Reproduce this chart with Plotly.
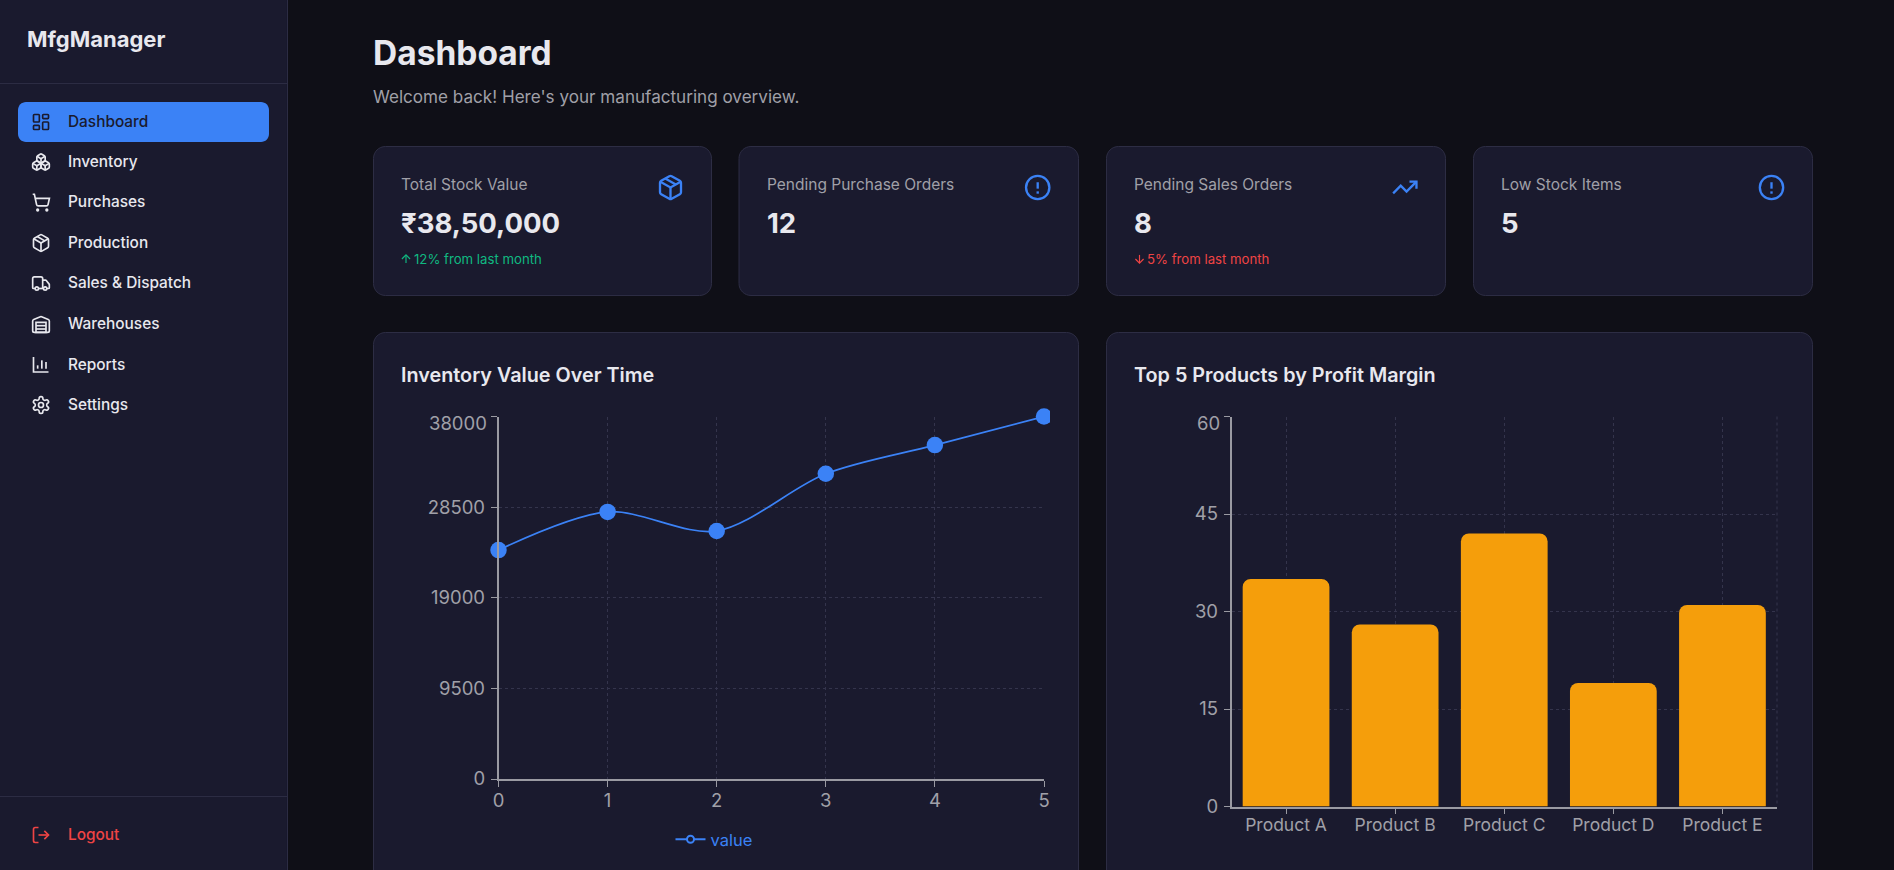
import math, re
import plotly.graph_objects as go

W, H = 1894, 870

# ---------- data ----------
INV_X = [0, 1, 2, 3, 4, 5]
INV_VALUES = [24000, 28000, 26000, 32000, 35000, 38000]
INV_Y_TICKS = [0, 9500, 19000, 28500, 38000]
SERIES_NAME = "value"

PRODUCTS = ["Product A", "Product B", "Product C", "Product D", "Product E"]
MARGINS = [35, 28, 42, 19, 31]
MARGIN_Y_TICKS = [0, 15, 30, 45, 60]

NAV_ITEMS = ["Dashboard", "Inventory", "Purchases", "Production", "Sales & Dispatch",
             "Warehouses", "Reports", "Settings"]
NAV_Y = [122, 162, 202.5, 243, 283.5, 324, 364.5, 405]

CARD_TITLES = ["Total Stock Value", "Pending Purchase Orders", "Pending Sales Orders", "Low Stock Items"]
CARD_VALUES = ["₹38,50,000", "12", "8", "5"]
CARD_X = [(373.5, 711.5), (739, 1078.5), (1106.5, 1445.5), (1473.5, 1812.5)]

# ---------- colours ----------
BG = "#0f0f17"
PANEL = "#1a1a2e"
BORDER = "#2d2d44"
GRID = "#34344c"
TEXT = "#e8e8ee"
MUTED = "#a0a0a8"
BLUE = "#3b82f6"
GREEN = "#10b981"
RED = "#ef4444"
AMBER = "#f59e0b"
AXIS = "#9a9aa2"
FONT = "Inter, sans-serif"


# ---------- svg path -> plotly paper path ----------
def arc_to_cubics(x1, y1, rx, ry, phi, fa, fs, x2, y2):
    if rx == 0 or ry == 0 or (x1 == x2 and y1 == y2):
        return [(x1, y1, x2, y2, x2, y2)]
    rx, ry = abs(rx), abs(ry)
    dx, dy = (x1 - x2) / 2, (y1 - y2) / 2
    lam = dx * dx / (rx * rx) + dy * dy / (ry * ry)
    if lam > 1:
        rx *= math.sqrt(lam)
        ry *= math.sqrt(lam)
    n = rx * rx * ry * ry - rx * rx * dy * dy - ry * ry * dx * dx
    d = rx * rx * dy * dy + ry * ry * dx * dx
    c = math.sqrt(max(0, n / d)) * (-1 if fa == fs else 1)
    cxp, cyp = c * rx * dy / ry, -c * ry * dx / rx
    cx, cy = cxp + (x1 + x2) / 2, cyp + (y1 + y2) / 2
    a1 = math.atan2((dy - cyp) / ry, (dx - cxp) / rx)
    a2 = math.atan2((-dy - cyp) / ry, (-dx - cxp) / rx)
    da = a2 - a1
    if fs and da < 0:
        da += 2 * math.pi
    if not fs and da > 0:
        da -= 2 * math.pi
    segs = max(1, math.ceil(abs(da) / (math.pi / 2) - 1e-9))
    out = []
    step = da / segs
    t = 4 / 3 * math.tan(step / 4)
    for i in range(segs):
        s = a1 + i * step
        e = s + step
        out.append((cx + rx * (math.cos(s) - t * math.sin(s)), cy + ry * (math.sin(s) + t * math.cos(s)),
                    cx + rx * (math.cos(e) + t * math.sin(e)), cy + ry * (math.sin(e) - t * math.cos(e)),
                    cx + rx * math.cos(e), cy + ry * math.sin(e)))
    return out


def tokens(d):
    for m in re.finditer(r"([MmLlHhVvCcAaZz])|(-?(?:\d*\.\d+|\d+\.?))", d):
        yield m.group(0)


def svg_to_paper(d, ox=0.0, oy=0.0, k=1.0):
    tk = list(tokens(d))
    i = 0
    x = y = sx = sy = 0.0
    cmd = None
    segs = []

    def num():
        nonlocal i
        v = float(tk[i])
        i += 1
        return v

    while i < len(tk):
        if tk[i].isalpha():
            cmd = tk[i]
            i += 1
            if cmd in "Zz":
                segs.append(("Z",))
                x, y = sx, sy
                continue
        rel = cmd.islower()
        c = cmd.upper()
        bx, by = (x, y) if rel else (0, 0)
        if c == "M":
            x, y = bx + num(), by + num()
            sx, sy = x, y
            segs.append(("M", x, y))
            cmd = "l" if rel else "L"
        elif c == "L":
            x, y = bx + num(), by + num()
            segs.append(("L", x, y))
        elif c == "H":
            x = bx + num()
            segs.append(("L", x, y))
        elif c == "V":
            y = by + num()
            segs.append(("L", x, y))
        elif c == "C":
            p = [num() for _ in range(6)]
            segs.append(("C", bx + p[0], by + p[1], bx + p[2], by + p[3], bx + p[4], by + p[5]))
            x, y = bx + p[4], by + p[5]
        elif c == "A":
            rx, ry, phi, fa, fs = num(), num(), num(), int(num()), int(num())
            nx, ny = bx + num(), by + num()
            for cc in arc_to_cubics(x, y, rx, ry, phi, fa, fs, nx, ny):
                segs.append(("C",) + cc)
            x, y = nx, ny

    def px(u, v):
        return f"{(ox + u * k) / W:.6f},{1 - (oy + v * k) / H:.6f}"

    out = ""
    for s in segs:
        if s[0] == "Z":
            out += "Z"
        elif s[0] in "ML":
            out += s[0] + px(s[1], s[2])
        else:
            out += "C" + px(s[1], s[2]) + " " + px(s[3], s[4]) + " " + px(s[5], s[6])
    return out


def rrect(x0, y0, x1, y1, r):
    return (f"M{x0 + r} {y0}L{x1 - r} {y0}A{r} {r} 0 0 1 {x1} {y0 + r}L{x1} {y1 - r}"
            f"A{r} {r} 0 0 1 {x1 - r} {y1}L{x0 + r} {y1}A{r} {r} 0 0 1 {x0} {y1 - r}"
            f"L{x0} {y0 + r}A{r} {r} 0 0 1 {x0 + r} {y0}Z")


def circ(cx, cy, r):
    return f"M{cx - r} {cy}A{r} {r} 0 1 1 {cx + r} {cy}A{r} {r} 0 1 1 {cx - r} {cy}Z"


ICONS = {
    "dashboard": [rrect(3, 3, 10, 12, 1), rrect(14, 3, 21, 8, 1), rrect(14, 12, 21, 21, 1), rrect(3, 16, 10, 21, 1)],
    "boxes": ["M2.97 12.92A2 2 0 0 0 2 14.63v3.24a2 2 0 0 0 .97 1.71l3 1.8a2 2 0 0 0 2.06 0L12 19v-5.5l-5-3-4.03 2.42Z",
              "m7 16.5-4.74-2.85", "m7 16.5 5-3", "m7 16.5v5.17",
              "M12 13.5V19l3.97 2.38a2 2 0 0 0 2.06 0l3-1.8a2 2 0 0 0 .97-1.71v-3.24a2 2 0 0 0-.97-1.71L17 10.5l-5 3Z",
              "m17 16.5-5-3", "m17 16.5 4.74-2.85", "M17 16.5v5.17",
              "M7.97 4.42A2 2 0 0 0 7 6.13v4.37l5 3 5-3V6.13a2 2 0 0 0-.97-1.71l-3-1.8a2 2 0 0 0-2.06 0l-3 1.8Z",
              "M12 8 7.26 5.15", "m12 8 4.74-2.85", "M12 13.5V8"],
    "cart": [circ(8, 21, 1), circ(19, 21, 1),
             "M2.05 2.05h2l2.66 12.42a2 2 0 0 0 2 1.58h9.78a2 2 0 0 0 1.95-1.57l1.65-7.43H5.12"],
    "package": ["M21 8a2 2 0 0 0-1-1.73l-7-4a2 2 0 0 0-2 0l-7 4A2 2 0 0 0 3 8v8a2 2 0 0 0 1 1.73l7 4a2 2 0 0 0 2 0l7-4A2 2 0 0 0 21 16Z",
                "M3.3 7 12 12 20.7 7", "M12 22V12", "M7.5 4.27l9 5.15"],
    "truck": ["M14 18V6a2 2 0 0 0-2-2H4a2 2 0 0 0-2 2v11a1 1 0 0 0 1 1h2", "M15 18H9",
              "M19 18h2a1 1 0 0 0 1-1v-3.65a1 1 0 0 0-.22-.624l-3.48-4.35A1 1 0 0 0 17.52 8H14",
              circ(17, 18, 2), circ(7, 18, 2)],
    "warehouse": ["M22 8.35V20a2 2 0 0 1-2 2H4a2 2 0 0 1-2-2V8.35A2 2 0 0 1 3.26 6.5l8-3.2a2 2 0 0 1 1.48 0l8 3.2A2 2 0 0 1 22 8.35Z",
                  "M6 18h12", "M6 14h12", "M6 10h12V22H6Z"],
    "chart": ["M3 3v18h18", "M8 17v-4", "M13 17V7", "M18 17V9"],
    "settings": ["M12.22 2h-.44a2 2 0 0 0-2 2v.18a2 2 0 0 1-1 1.73l-.43.25a2 2 0 0 1-2 0l-.15-.08a2 2 0 0 0-2.73.73l-.22.38a2 2 0 0 0 .73 2.73l.15.1a2 2 0 0 1 1 1.72v.51a2 2 0 0 1-1 1.74l-.15.09a2 2 0 0 0-.73 2.73l.22.38a2 2 0 0 0 2.73.73l.15-.08a2 2 0 0 1 2 0l.43.25a2 2 0 0 1 1 1.73V20a2 2 0 0 0 2 2h.44a2 2 0 0 0 2-2v-.18a2 2 0 0 1 1-1.73l.43-.25a2 2 0 0 1 2 0l.15.08a2 2 0 0 0 2.73-.73l.22-.39a2 2 0 0 0-.73-2.73l-.15-.08a2 2 0 0 1-1-1.74v-.5a2 2 0 0 1 1-1.74l.15-.09a2 2 0 0 0 .73-2.73l-.22-.38a2 2 0 0 0-2.73-.73l-.15.08a2 2 0 0 1-2 0l-.43-.25a2 2 0 0 1-1-1.73V4a2 2 0 0 0-2-2z",
                 circ(12, 12, 3)],
    "logout": ["M9 21H5a2 2 0 0 1-2-2V5a2 2 0 0 1 2-2h4", "M16 17 21 12 16 7", "M21 12H9"],
    "alert": [circ(12, 12, 10), "M12 7.5V13", "M12 15.3V17.3"],
    "trend": ["m22 7-8.5 8.5-5-5L2 17", "M16 7h6v6"],
    "up": ["m5 12 7-7 7 7", "M12 19V5"],
    "down": ["M12 5v14", "m19 12-7 7-7-7"],
}
NAV_ICONS = ["dashboard", "boxes", "cart", "package", "truck", "warehouse", "chart", "settings"]

shapes = []
annotations = []


def add_path(d, fill=None, line=None, width=1, layer="below", ox=0, oy=0, k=1):
    shapes.append(dict(type="path", xref="paper", yref="paper", layer=layer,
                       path=svg_to_paper(d, ox, oy, k),
                       fillcolor=fill or "rgba(0,0,0,0)",
                       line=dict(color=line or "rgba(0,0,0,0)", width=width)))


def icon(name, cx, cy, size, color):
    k = size / 24
    for d in ICONS[name]:
        add_path(d, line=color, width=2 * k, ox=cx - size / 2, oy=cy - size / 2, k=k)


def label(text, x, y, size, color, weight=400, anchor="left"):
    annotations.append(dict(text=text, x=(x - 1) / W, y=1 - y / H, xref="paper", yref="paper",
                            xanchor=anchor, yanchor="middle", showarrow=False, borderpad=0,
                            font=dict(family=FONT, size=size, color=color, weight=weight)))


# ---------- sidebar ----------
add_path(f"M0 0L287 0L287 {H}L0 {H}Z", fill=PANEL)
add_path(f"M287.5 0L287.5 {H}", line=BORDER)
add_path("M0 83.5L287 83.5", line=BORDER)
add_path("M0 796.5L287 796.5", line=BORDER)
add_path(rrect(18, 102, 269, 142, 8), fill=BLUE)
label("MfgManager", 27, 39, 22, TEXT, 700)
for i, (name, yy, ic) in enumerate(zip(NAV_ITEMS, NAV_Y, NAV_ICONS)):
    col = PANEL if i == 0 else TEXT
    icon(ic, 41, yy, 20, col)
    label(name, 68, yy - 0.5, 15.4, col, 500)
icon("logout", 41, 835, 20, RED)
label("Logout", 68, 834.5, 15.4, RED, 500)

# ---------- header ----------
label("Dashboard", 373, 53, 33.5, TEXT, 700)
label("Welcome back! Here's your manufacturing overview.", 373, 97, 17.1, MUTED)

# ---------- stat cards ----------
CARD_ICONS = ["package", "alert", "trend", "alert"]
CARD_ICON_X = [670.5, 1037.7, 1404.8, 1771.5]
for (x0, x1), title, val, ic, ix in zip(CARD_X, CARD_TITLES, CARD_VALUES, CARD_ICONS, CARD_ICON_X):
    add_path(rrect(x0, 146.5, x1, 295.5, 12), fill=PANEL, line=BORDER)
    tx = x0 + 27.5
    label(title, tx, 184.5, 15.5, MUTED)
    label(val, tx, 222.5, 27.5, TEXT, 700)
    icon(ic, ix, 187.5, 28, BLUE)
icon("up", 406, 259, 14, GREEN)
label("12% from last month", 413.5, 259, 13.2, GREEN)
icon("down", 1139.5, 259, 14, RED)
label("5% from last month", 1147, 259, 13.2, RED)

# ---------- chart cards ----------
add_path(rrect(373.5, 332.5, 1078.5, 900, 12), fill=PANEL, line=BORDER)
add_path(rrect(1106.5, 332.5, 1812.5, 900, 12), fill=PANEL, line=BORDER)
label("Inventory Value Over Time", 401, 375, 19.8, TEXT, 600)
label("Top 5 Products by Profit Margin", 1134, 375, 19.8, TEXT, 600)

# plot areas in pixels
L1 = (498.5, 1044, 416.5, 779)
L2 = (1231.5, 1777, 416.5, 806.5)


def dom_x(a):
    return [a[0] / W, a[1] / W]


def dom_y(a):
    return [1 - a[3] / H, 1 - a[2] / H]


# right-hand dashed grid edge of bar chart
add_path(f"M{L2[1]} {L2[2]}L{L2[1]} {L2[3]}", line=GRID)
shapes[-1]["line"]["dash"] = "3px,3px"
# the line chart's drawing area stops just right of the last point
add_path("M1050 404L1060 404L1060 428L1050 428Z", fill=PANEL, layer="above")

fig = go.Figure()
fig.add_trace(go.Scatter(x=INV_X, y=INV_VALUES, mode="lines+markers", name=SERIES_NAME,
                         showlegend=False, cliponaxis=False,
                         line=dict(color=BLUE, width=1.7, shape="spline", smoothing=0.9),
                         marker=dict(color=BLUE, size=16.5),
                         xaxis="x", yaxis="y"))
fig.add_trace(go.Scatter(x=[None], y=[None], mode="lines+markers", name=SERIES_NAME,
                         line=dict(color=BLUE, width=2),
                         marker=dict(color=PANEL, size=7, line=dict(color=BLUE, width=2)),
                         xaxis="x", yaxis="y"))
fig.add_trace(go.Bar(x=PRODUCTS, y=MARGINS, marker=dict(color=AMBER, line=dict(width=0)),
                     showlegend=False, xaxis="x2", yaxis="y2"))

axis_common = dict(showline=True, linecolor=AXIS, linewidth=1.5, ticks="outside", ticklen=6, tickwidth=1,
                   tickcolor=AXIS, showgrid=True, gridcolor=GRID, griddash="3px,3px", gridwidth=1,
                   zeroline=False, automargin=False)
NUM_FONT = dict(family=FONT, size=18.5, color=MUTED)
CAT_FONT = dict(family=FONT, size=17.5, color=MUTED)

fig.update_layout(
    width=W, height=H, margin=dict(l=0, r=0, t=0, b=0, autoexpand=False), autosize=False,
    paper_bgcolor=BG, plot_bgcolor="rgba(0,0,0,0)",
    font=dict(family=FONT), bargap=0.205, barcornerradius=8,
    hovermode=False,
    shapes=shapes,
    xaxis=dict(domain=dom_x(L1), anchor="y", range=[0, 5], tickmode="array", tickvals=INV_X,
               ticktext=[str(v) for v in INV_X], tickfont=NUM_FONT, ticklabelstandoff=-2, **axis_common),
    yaxis=dict(domain=dom_y(L1), anchor="x", range=[0, 38000], tickmode="array", tickvals=INV_Y_TICKS,
               ticktext=[str(v) if v != INV_Y_TICKS[-1] else "" for v in INV_Y_TICKS], tickfont=NUM_FONT,
               ticklabelstandoff=2, **axis_common),
    xaxis2=dict(domain=dom_x(L2), anchor="y2", range=[-0.5, 4.5], type="category", tickmode="array",
                tickvals=PRODUCTS, ticktext=PRODUCTS, tickfont=CAT_FONT, ticklabelstandoff=-4, **axis_common),
    yaxis2=dict(domain=dom_y(L2), anchor="x2", range=[0, 60], tickmode="array", tickvals=MARGIN_Y_TICKS,
                ticktext=[str(v) if v != MARGIN_Y_TICKS[-1] else "" for v in MARGIN_Y_TICKS], tickfont=NUM_FONT,
                ticklabelstandoff=2, **axis_common),
    legend=dict(x=670.5 / W, y=1 - 839.5 / H, xanchor="left", yanchor="middle", bgcolor="rgba(0,0,0,0)",
                itemwidth=30, itemclick=False, itemdoubleclick=False,
                font=dict(family=FONT, size=16.5, color=BLUE)),
)

# the top tick label of each value axis sits just below its tick
annotations.append(dict(text=str(INV_Y_TICKS[-1]), x=0, y=INV_Y_TICKS[-1], xref="x domain", yref="y", xanchor="right",
                        yanchor="middle", xshift=-11, yshift=-6, showarrow=False, borderpad=0,
                        font=NUM_FONT))
annotations.append(dict(text=str(MARGIN_Y_TICKS[-1]), x=0, y=MARGIN_Y_TICKS[-1], xref="x2 domain", yref="y2",
                        xanchor="right", yanchor="middle", xshift=-11, yshift=-6, showarrow=False, borderpad=0,
                        font=NUM_FONT))
fig.update_layout(annotations=annotations)

fig.write_html("out.html", config=dict(displayModeBar=False),
               post_script="document.body.style.margin='0';document.body.style.overflow='hidden';")
